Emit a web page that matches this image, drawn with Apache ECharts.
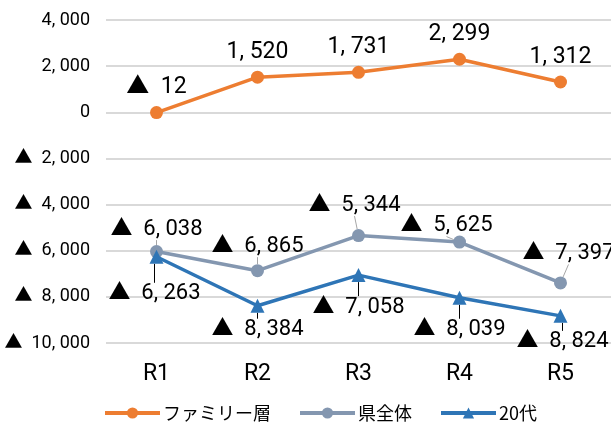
<!DOCTYPE html>
<html>
<head>
<meta charset="utf-8">
<script src="https://cdn.jsdelivr.net/npm/echarts@6/dist/echarts.min.js"></script>
<style>
  html, body { margin: 0; padding: 0; background: #fff; }
  #chart { width: 611px; height: 423px; }
</style>
</head>
<body>
<div id="chart"></div>
<script>
  // data
  const categories = ['R1', 'R2', 'R3', 'R4', 'R5']
  const familyData = [-12, 1520, 1731, 2299, 1312]
  const prefData = [-6038, -6865, -5344, -5625, -7397]
  const twentiesData = [-6263, -8384, -7058, -8039, -8824]
  const seriesNames = ['ファミリー層', '県全体', '20代']

  // narrow-ish latin font first, the ▲ falls back to the CJK font
  const FONT = 'Roboto, "Noto Sans CJK JP", sans-serif'

  // 4,000 -> "4, 000" / -2000 -> "▲  2, 000"
  function fmt(v) {
    const s = Math.abs(v).toString().replace(/\B(?=(\d{3})+(?!\d))/g, ', ')
    return v < 0 ? '▲  ' + s : s
  }

  // label nudges (dx, dy) so labels sit like the original
  const prefShift = [[0, 0], [0, -2], [-4, -8], [-13, 6], [8, -7]]
  const twShift = [[-2, 14], [0, 1], [0, 9], [0, 9], [2, 3]]

  const chart = echarts.init(document.getElementById('chart'))
  chart.setOption({
    animation: false,
    textStyle: { fontFamily: FONT },
    grid: { left: 106, right: 0, top: 20, bottom: 80 },
    legend: {
      top: 399,
      left: 98,
      itemWidth: 55,
      itemHeight: 14,
      itemGap: 27,
      lineStyle: { width: 4 },
      textStyle: { fontFamily: '"Noto Sans CJK JP", sans-serif', fontSize: 18, color: '#000', padding: [0, 0, 0, -2] },
      data: seriesNames
    },
    xAxis: {
      type: 'category',
      data: categories,
      axisLine: { show: false },
      axisTick: { show: false },
      axisLabel: { fontSize: 23, color: '#000', margin: 20, fontFamily: FONT }
    },
    yAxis: {
      type: 'value',
      min: -10000,
      max: 4000,
      interval: 2000,
      axisLine: { show: false },
      axisTick: { show: false },
      splitLine: { lineStyle: { color: '#d9d9d9', width: 2 } },
      axisLabel: { fontSize: 18, color: '#000', margin: 16, formatter: fmt, fontFamily: FONT }
    },
    series: [
      {
        name: seriesNames[0],
        type: 'line',
        data: familyData,
        symbol: 'circle',
        symbolSize: 13,
        itemStyle: { color: '#ED7D31' },
        lineStyle: { color: '#ED7D31', width: 3.5 },
        label: {
          show: true, position: 'top', distance: 7,
          fontSize: 23, color: '#000', fontFamily: FONT,
          formatter: p => fmt(p.value)
        }
      },
      {
        name: seriesNames[1],
        type: 'line',
        data: prefData,
        symbol: 'circle',
        symbolSize: 13,
        itemStyle: { color: '#8497B0' },
        lineStyle: { color: '#8497B0', width: 3.5 },
        label: {
          show: true, position: 'top', distance: 5,
          fontSize: 22, color: '#000', fontFamily: FONT,
          formatter: p => fmt(p.value)
        },
        labelLine: { show: true, lineStyle: { color: '#a6a6a6', width: 1 } },
        labelLayout: p => ({ dx: prefShift[p.dataIndex][0], dy: prefShift[p.dataIndex][1] })
      },
      {
        name: seriesNames[2],
        type: 'line',
        data: twentiesData,
        symbol: 'triangle',
        symbolSize: 14,
        itemStyle: { color: '#2E75B6' },
        lineStyle: { color: '#2E75B6', width: 3.5 },
        label: {
          show: true, position: 'bottom', distance: 5,
          fontSize: 22, color: '#000', fontFamily: FONT,
          formatter: p => fmt(p.value)
        },
        labelLine: { show: true, lineStyle: { color: '#000', width: 1 } },
        labelLayout: p => ({ dx: twShift[p.dataIndex][0], dy: twShift[p.dataIndex][1] })
      }
    ]
  })
</script>
</body>
</html>
